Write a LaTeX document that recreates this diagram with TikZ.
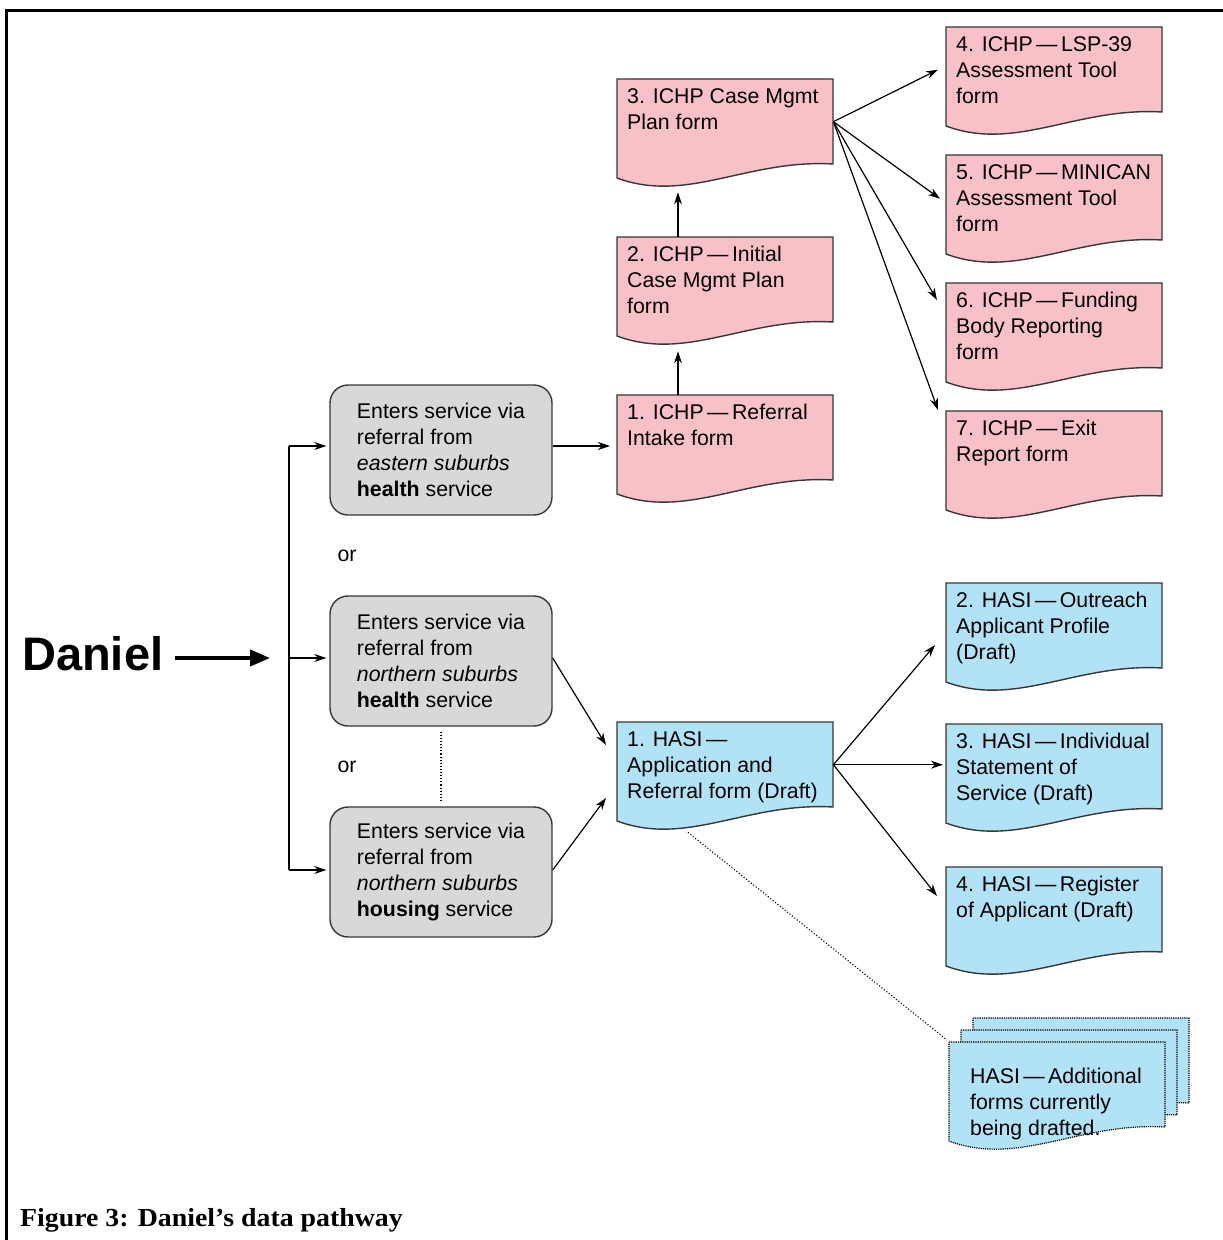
\documentclass[tikz,border=0pt]{standalone}
\usepackage{fontspec}
\usepackage{graphicx}
\setmainfont{Liberation Sans}
\newfontfamily\capfont{Liberation Serif}
\usetikzlibrary{arrows.meta,calc}
\definecolor{pinkf}{RGB}{248,192,199}
\definecolor{bluef}{RGB}{178,226,246}
\definecolor{grayf}{RGB}{216,216,216}
\definecolor{edge}{RGB}{55,55,55}
\newcommand\dsh{\hspace{3.5pt}—\hspace{3.5pt}}
\tikzset{
  pinkdoc/.style={fill=pinkf, draw=edge, line width=1.4pt},
  bluedoc/.style={fill=bluef, draw=edge, line width=1.4pt},
  stackdoc/.style={fill=bluef, draw=black, densely dotted, line width=1.2pt},
  docframe/.style={draw=none, fill=none, minimum width=216pt, minimum height=85pt, inner sep=0pt},
  doctext/.style={align=left, inner sep=0pt, font=\fontsize{21.3}{26}\selectfont},
  gbox/.style={draw=edge, fill=grayf, line width=1.4pt, rounded corners=18pt,
    minimum width=222pt, minimum height=130pt,
    align=left, font=\fontsize{21.3}{26}\selectfont},
  arr/.style={line width=1.2pt, -{Stealth[length=12pt,width=8pt]}},
  plain/.style={line width=1.2pt},
  orlab/.style={font=\fontsize{21.3}{26}\selectfont, inner sep=0pt}
}
% optional text offset; name, x, y, style, text
\newcommand\mydoc[6][10pt,-9pt]{%
  \path[#5, shift={(#3,#4)}] (0,0) -- (216,0) -- (216,85)
     .. controls (130,80) and (70,125) .. (0,99) -- cycle;
  \node[docframe, anchor=north west] (#2) at (#3,#4) {};
  \node[doctext, anchor=north west] (#2t) at ([shift={(#1)}]#2.north west) {#6};
}
\newcommand\myshape[3]{%
  \path[#3, shift={(#1,#2)}] (0,0) -- (216,0) -- (216,85)
     .. controls (130,80) and (70,125) .. (0,99) -- cycle;
}
\begin{document}
\begin{tikzpicture}[x=1pt,y=-1pt]
\useasboundingbox (0,0) rectangle (1223,1240);
\fill[white] (0,0) rectangle (1223,1240);
% frame
\draw[line width=3pt] (6,1240) -- (6,10) -- (1223,10);

% ICHP documents
\mydoc{i1}{617}{395}{pinkdoc}{1. ICHP\dsh Referral\\Intake form}
\mydoc{i2}{617}{237}{pinkdoc}{2. ICHP\dsh Initial\\Case Mgmt Plan\\form}
\mydoc{i3}{617}{79}{pinkdoc}{3. ICHP Case Mgmt\\Plan form}
\mydoc{i4}{946}{27}{pinkdoc}{4. ICHP\dsh LSP-39\\Assessment Tool\\form}
\mydoc{i5}{946}{155}{pinkdoc}{5. ICHP\dsh MINICAN\\Assessment Tool\\form}
\mydoc{i6}{946}{283}{pinkdoc}{6. ICHP\dsh Funding\\Body Reporting\\form}
\mydoc{i7}{946}{411}{pinkdoc}{7. ICHP\dsh Exit\\Report form}

% HASI documents
\mydoc{h1}{617}{722}{bluedoc}{1. HASI\hspace{3.5pt}—\\Application and\\Referral form (Draft)}
\mydoc{h2}{946}{583}{bluedoc}{2. HASI\dsh Outreach\\Applicant Profile\\(Draft)}
\mydoc{h3}{946}{724}{bluedoc}{3. HASI\dsh Individual\\Statement of\\Service (Draft)}
\mydoc{h4}{946}{867}{bluedoc}{4. HASI\dsh Register\\of Applicant (Draft)}

% stacked additional forms
\myshape{973}{1018}{stackdoc}
\myshape{961}{1030}{stackdoc}
\mydoc[21pt,-26pt]{s1}{949}{1042}{stackdoc}{HASI\dsh Additional\\forms currently\\being drafted.}

% grey entry boxes
\node[gbox] (A) at (441,450) {Enters service via\\referral from\\\textit{eastern suburbs}\\\textbf{health} service};
\node[gbox] (B) at (441,661) {Enters service via\\referral from\\\textit{northern suburbs}\\\textbf{health} service};
\node[gbox] (C) at (441,872) {Enters service via\\referral from\\\textit{northern suburbs}\\\textbf{housing} service};

\node[orlab] (or1) at (347,556) {or};
\node[orlab] (or2) at (347,767) {or};

% Daniel
\node[font=\fontsize{47}{50}\selectfont\bfseries, anchor=base west, inner sep=0pt] (dan) at (22,670) {Daniel};
\coordinate (dtip) at (270,658);
\draw[line width=4pt, -{Triangle[length=20pt,width=16pt]}] ($(dan.base east)+(12pt,12pt)$) -- (dtip);

% split line and branches
\coordinate (split) at (289,658);
\draw[plain] ($(A.west -| split)+(0,4pt)$) -- ($(C.west -| split)+(0,2pt)$);
\draw[arr] ($(A.west -| split)+(0,4pt)$) -- ($(A.west)+(-3pt,4pt)$);
\draw[arr] (split) -- ($(B.west)+(-3pt,3pt)$);
\draw[arr] ($(C.west -| split)+(0,2pt)$) -- ($(C.west)+(-3pt,2pt)$);

% box to documents
\draw[arr] ($(A.east)+(0,4pt)$) -- ($(A.east -| i1.west)+(-7pt,4pt)$);
\draw[arr] ($(B.east)+(0,3pt)$) -- ($(h1.north west)+(-11pt,-23pt)$);
\draw[arr] ($(C.east)+(0,2pt)$) -- ($(h1.north west)+(-11pt,-76pt)$);

% ICHP chain
\draw[arr] ($(i1.north west)+(61pt,0)$) -- ($(i2.south west)+(61pt,-29pt)$);
\draw[arr] ($(i2.north west)+(61pt,0)$) -- ($(i3.south west)+(61pt,-28pt)$);

% ICHP fan
\draw[arr] (i3.east) -- ($(i4.west)+(-8pt,0)$);
\draw[arr] (i3.east) -- ($(i5.west)+(-6pt,-1pt)$);
\draw[arr] (i3.east) -- ($(i6.north west)+(-9pt,-17pt)$);
\draw[arr] (i3.east) -- ($(i7.north west)+(-8pt,1pt)$);

% HASI fan
\draw[arr] (h1.east) -- ($(h2.north west)+(-11pt,-62pt)$);
\draw[arr] (h1.east) -- ($(h1.east -| h3.west)+(-3pt,0)$);
\draw[arr] (h1.east) -- ($(h4.north west)+(-9pt,-29pt)$);

% dotted links
\draw[dotted, line width=1.1pt] ($(B.south)+(0,-5pt)$) -- ($(C.north)+(0,4pt)$);
\draw[dotted, line width=1.1pt] ($(h1.south west)+(71pt,-25pt)$) -- ($(s1.north west)+(-2pt,2pt)$);

% caption
\node[anchor=base west, inner sep=0pt, font=\capfont\bfseries\fontsize{26}{30}\selectfont] (cap) at (20,1226) {\scalebox{1.07}[1]{Figure 3: Daniel’s data pathway}};
\end{tikzpicture}
\end{document}
